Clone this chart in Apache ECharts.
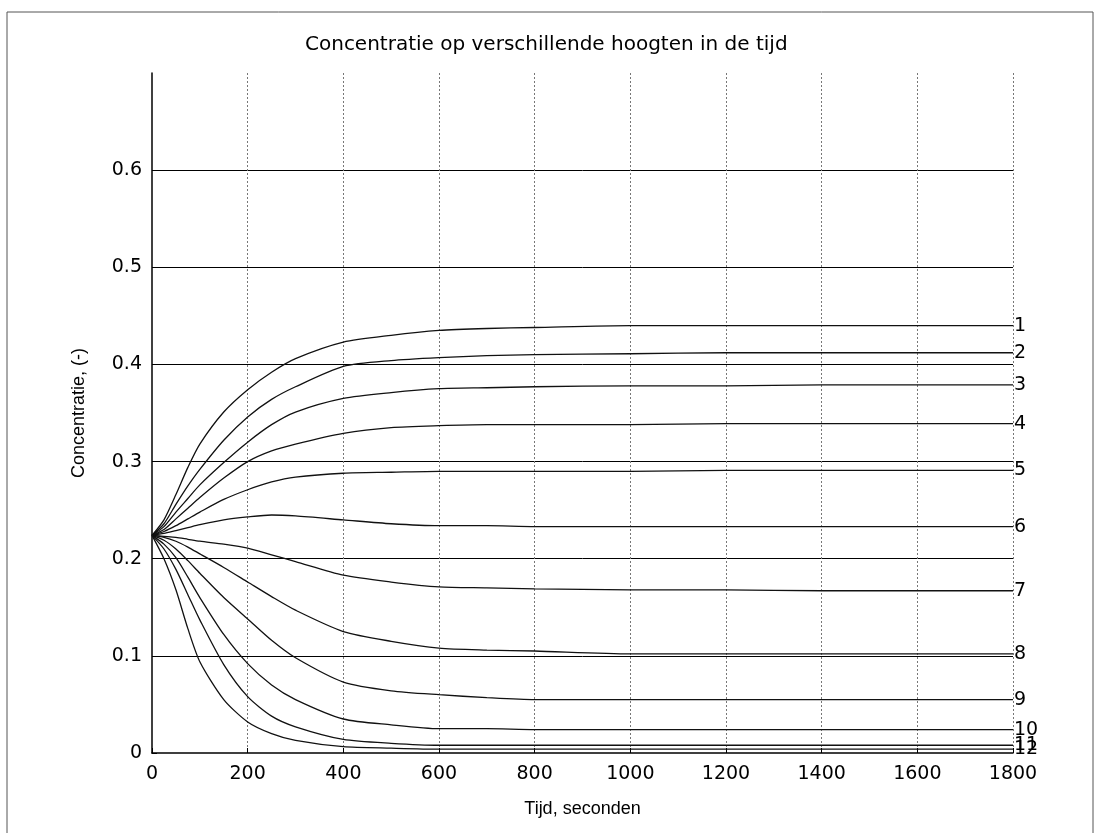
<!DOCTYPE html>
<html>
<head>
<meta charset="utf-8">
<script src="https://cdn.jsdelivr.net/npm/echarts@6/dist/echarts.min.js"></script>
<style>
  html, body { margin: 0; padding: 0; background: #fff; }
  #container { width: 1096px; height: 833px; }
</style>
</head>
<body>
<div id="container"></div>
<script>
// tijdstippen (seconden)
var tijd = [0, 25, 50, 75, 100, 150, 200, 250, 300, 400, 500, 600, 700, 800, 1000, 1200, 1400, 1600, 1800];

// concentratie per hoogte
var c1  = [0.224, 0.240, 0.266, 0.294, 0.318, 0.351, 0.374, 0.392, 0.406, 0.423, 0.430, 0.435, 0.437, 0.438, 0.440, 0.440, 0.440, 0.440, 0.440];
var c2  = [0.224, 0.236, 0.256, 0.275, 0.292, 0.322, 0.346, 0.364, 0.377, 0.398, 0.404, 0.407, 0.409, 0.410, 0.411, 0.412, 0.412, 0.412, 0.412];
var c3  = [0.224, 0.233, 0.248, 0.262, 0.276, 0.299, 0.320, 0.338, 0.351, 0.365, 0.371, 0.375, 0.376, 0.377, 0.378, 0.378, 0.379, 0.379, 0.379];
var c4  = [0.224, 0.230, 0.241, 0.252, 0.263, 0.283, 0.300, 0.311, 0.318, 0.329, 0.335, 0.337, 0.338, 0.338, 0.338, 0.339, 0.339, 0.339, 0.339];
var c5  = [0.224, 0.228, 0.234, 0.241, 0.248, 0.261, 0.271, 0.279, 0.284, 0.288, 0.289, 0.290, 0.290, 0.290, 0.290, 0.291, 0.291, 0.291, 0.291];
var c6  = [0.224, 0.226, 0.229, 0.232, 0.235, 0.240, 0.243, 0.245, 0.244, 0.240, 0.236, 0.234, 0.234, 0.233, 0.233, 0.233, 0.233, 0.233, 0.233];
var c7  = [0.224, 0.223, 0.222, 0.220, 0.218, 0.215, 0.211, 0.204, 0.197, 0.183, 0.176, 0.171, 0.170, 0.169, 0.168, 0.168, 0.167, 0.167, 0.167];
var c8  = [0.224, 0.222, 0.218, 0.212, 0.205, 0.191, 0.176, 0.161, 0.147, 0.125, 0.115, 0.108, 0.106, 0.105, 0.102, 0.102, 0.102, 0.102, 0.102];
var c9  = [0.224, 0.219, 0.210, 0.198, 0.185, 0.160, 0.138, 0.116, 0.098, 0.073, 0.064, 0.060, 0.057, 0.055, 0.055, 0.055, 0.055, 0.055, 0.055];
var c10 = [0.224, 0.215, 0.201, 0.181, 0.160, 0.122, 0.092, 0.070, 0.055, 0.035, 0.029, 0.025, 0.025, 0.024, 0.024, 0.024, 0.024, 0.024, 0.024];
var c11 = [0.224, 0.210, 0.189, 0.163, 0.137, 0.091, 0.058, 0.038, 0.027, 0.014, 0.010, 0.008, 0.008, 0.008, 0.008, 0.008, 0.008, 0.008, 0.008];
var c12 = [0.224, 0.200, 0.168, 0.128, 0.094, 0.055, 0.032, 0.020, 0.013, 0.0065, 0.005, 0.004, 0.004, 0.004, 0.004, 0.004, 0.004, 0.004, 0.004];

var namen = ['1', '2', '3', '4', '5', '6', '7', '8', '9', '10', '11', '12'];
var reeksen = [c1, c2, c3, c4, c5, c6, c7, c8, c9, c10, c11, c12];

var yTicks = [0, 0.1, 0.2, 0.3, 0.4, 0.5, 0.6];

var font = 'Liberation Sans, Arial, sans-serif';
var tickFont = 'DejaVu Sans, sans-serif';

function maakSeries() {
    var out = [];
    for (var i = 0; i < reeksen.length; i++) {
        var pts = [];
        for (var j = 0; j < tijd.length; j++) {
            pts.push([tijd[j], reeksen[i][j]]);
        }
        out.push({
            name: namen[i],
            type: 'line',
            data: pts,
            showSymbol: false,
            silent: true,
            smooth: 0.25,
            lineStyle: { color: '#111', width: 1.3 },
            endLabel: {
                show: true,
                formatter: '{a}',
                color: '#000',
                fontFamily: tickFont,
                fontSize: 19,
                distance: 1
            }
        });
    }
    return out;
}

var chart = echarts.init(document.getElementById('container'), null, { renderer: 'canvas' });

chart.setOption({
    animation: false,
    backgroundColor: '#fff',
    title: {
        text: 'Concentratie op verschillende hoogten in de tijd',
        left: 300,
        top: 30,
        textStyle: { fontFamily: tickFont, fontSize: 20, fontWeight: 'normal', color: '#000' }
    },
    graphic: [{
        type: 'rect',
        shape: { x: 7, y: 12, width: 1086, height: 840 },
        style: { fill: 'none', stroke: '#555', lineWidth: 1 },
        silent: true
    }],
    grid: { left: 152, right: 83, top: 73, bottom: 80 },
    xAxis: {
        type: 'value',
        min: 0,
        max: 1800,
        interval: 200,
        name: 'Tijd, seconden',
        nameLocation: 'middle',
        nameGap: 47,
        nameTextStyle: { fontFamily: font, fontSize: 18, color: '#000' },
        axisLine: { show: true, onZero: false, lineStyle: { color: '#000', width: 1.5 } },
        axisTick: { show: true, inside: true, length: 5, lineStyle: { color: '#000' } },
        axisLabel: {
            fontFamily: tickFont, fontSize: 19, color: '#000', margin: 12,
            formatter: function (v) { return String(v); }
        },
        splitLine: { show: true, showMinLine: false, lineStyle: { color: '#777', type: [2, 2], width: 1 } }
    },
    yAxis: {
        type: 'value',
        min: 0,
        max: 0.7,
        interval: 0.1,
        name: 'Concentratie, (-)',
        nameLocation: 'middle',
        nameGap: 64,
        nameTextStyle: { fontFamily: font, fontSize: 18, color: '#000' },
        axisLine: { show: true, lineStyle: { color: '#000', width: 1.5 } },
        axisTick: { show: true, inside: true, length: 5, customValues: yTicks, lineStyle: { color: '#000' } },
        axisLabel: {
            fontFamily: tickFont, fontSize: 19, color: '#000', margin: 10,
            customValues: yTicks,
            formatter: function (v) { return String(Math.round(v * 10) / 10); }
        },
        splitLine: { show: true, showMinLine: false, showMaxLine: true, lineStyle: { color: '#000', width: 1 } }
    },
    series: maakSeries()
});
</script>
</body>
</html>
